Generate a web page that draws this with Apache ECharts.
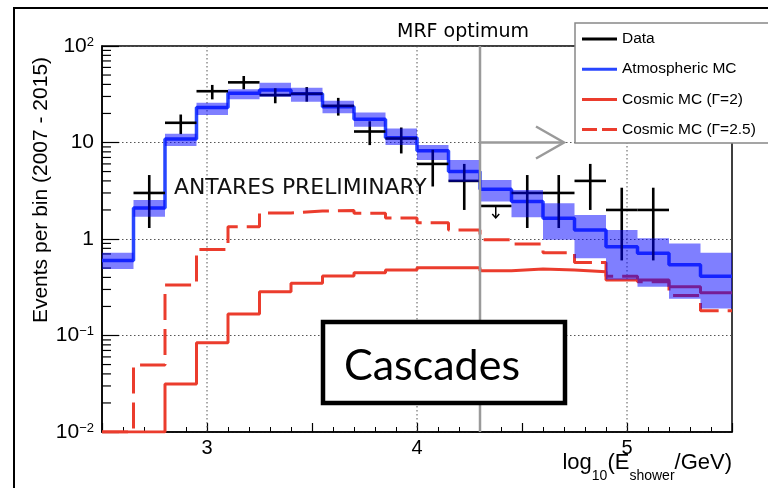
<!DOCTYPE html>
<html><head><meta charset="utf-8">
<script src="https://cdn.jsdelivr.net/npm/echarts@6/dist/echarts.min.js"></script>
<style>html,body{margin:0;padding:0;background:#fff}#c{width:768px;height:488px}</style>
</head><body><div id="c"></div>
<script>
// ---- data ----
const binEdges = [2.5,2.65,2.8,2.95,3.1,3.25,3.4,3.55,3.7,3.85,4.0,4.15,4.3,4.45,4.6,4.75,4.9,5.05,5.2,5.35,5.5];
const atmosphericMC   = [0.6,2.1,10.9,23,32.4,35,32,23.5,17.4,11.2,8.2,5.0,3.27,2.44,1.64,1.24,0.83,0.71,0.54,0.41];
const atmosphericLow  = [0.49,1.7,9.2,19.3,28,29.8,26.5,20.1,14.6,9.4,6.6,3.93,2.44,1.68,0.98,0.63,0.38,0.32,0.24,0.19];
const atmosphericHigh = [0.72,2.54,12.3,25.8,35.6,41.7,37,27.1,20.4,14.0,9.4,6.6,4.09,3.22,2.34,1.77,1.24,1.02,0.90,0.72];
const cosmicG2  = [0.01,0.01,0.0314,0.084,0.167,0.284,0.348,0.414,0.448,0.477,0.505,0.505,0.47,0.49,0.477,0.458,0.376,0.376,0.32,0.278];
const cosmicG25 = [0.01,0.0494,0.333,0.78,1.34,1.86,1.95,1.97,1.85,1.65,1.47,1.24,0.98,0.89,0.72,0.57,0.41,0.36,0.26,0.18];
const dataBin   = [1,2,3,4,5,6,7,8,9,10,11,13,14,15,16,17];
const dataY     = [3,16,34,42,31,32,24,13,11,6,4,3,3,4,2,2];
const dataLow   = [1.3,12.2,28,35.6,25.5,26.5,19,9.4,7.7,3.5,2,1.3,1.3,2,0.6,0.6];
const dataHigh  = [4.6,19.5,39.5,48.9,36.5,37.5,29,16.6,14.3,8.4,6,4.6,4.6,6,3.4,3.4];
const upperLimitBin = [12];
const upperLimitY   = [2.2];
const mrfCut = [4.3];
const mrfArrow = [4.3, 10, 4.7];   // from x, at y, to x
const xGrid = [3,4,5];
const xTickLabels = [3,4,5];
const yTickLabels = ['10{s|\u22122}','10{s|\u22121}','1','10','10{s|2}'];
const yMinorTicks = [];
[0.01,0.1,1,10].forEach(d=>[2,3,4,5,6,7,8,9].forEach(m=>yMinorTicks.push(+(d*m).toPrecision(3))));

const BLUE='#2846ff', RED='#eb3c2d', GRAY='#9a9a9a';
const step = vals => binEdges.map((e,i)=>[e, vals[Math.min(i, vals.length-1)]]);

const chart = echarts.init(document.getElementById('c'), null, {renderer:'canvas'});
const axisFont = 'Liberation Sans';

chart.setOption({
  animation:false,
  backgroundColor:'#fff',
  grid:{left:102, top:46, right:36, bottom:56, show:true, borderColor:'#000', borderWidth:1.5, backgroundColor:'transparent'},
  xAxis:{type:'value', min:2.5, max:5.5, interval:0.5,
    axisLine:{onZero:false, lineStyle:{color:'#000', width:1.5}},
    axisTick:{inside:true, length:9, lineStyle:{color:'#000', width:1.2}},
    minorTick:{show:true, splitNumber:5, length:5, lineStyle:{color:'#000', width:1}},
    splitLine:{show:false},
    axisLabel:{margin:6, color:'#000', fontSize:20, fontFamily:axisFont,
      formatter: v => xTickLabels.some(t=>Math.abs(t-v)<1e-6) ? String(Math.round(v)) : ''}
  },
  yAxis:{type:'log', logBase:10, min:0.01, max:100,
    axisLine:{onZero:false, lineStyle:{color:'#000', width:1.5}},
    axisTick:{inside:true, length:17, lineStyle:{color:'#000', width:1.2}},
    splitLine:{show:true, lineStyle:{color:'#555', width:1, type:[1.5,2.5]}},
    minorTick:{show:false},
    axisLabel:{margin:8, color:'#000', fontSize:21, fontFamily:axisFont,
      formatter: v => yTickLabels[Math.round(Math.log10(v))+2],
      rich:{s:{fontSize:13, fontFamily:axisFont, color:'#000', lineHeight:13, verticalAlign:'top', padding:[0,0,10,0]}}
    }
  },
  legend:{orient:'vertical', left:582, top:31, itemWidth:35, itemHeight:3, itemGap:14.2, padding:0, z:101,
    selectedMode:false,
    textStyle:{fontSize:15.5, fontFamily:axisFont, color:'#000'},
    data:[
      {name:'Data', icon:'path://M0,0H35V3H0Z', itemStyle:{color:'#000'}},
      {name:'Atmospheric MC', icon:'path://M0,0H35V3H0Z', itemStyle:{color:BLUE}},
      {name:'Cosmic MC (\u0393=2)', icon:'path://M0,0H35V3H0Z', itemStyle:{color:RED}},
      {name:'Cosmic MC (\u0393=2.5)', icon:'path://M0,0H15V3H0Z M20,0H35V3H20Z', itemStyle:{color:RED}}
    ]
  },
  series:[
    // x grid lines
    {type:'custom', name:'xgrid', z:1, silent:true,
      data: xGrid.map(v=>[v]),
      encode:{x:0},
      renderItem:(p,api)=>{const a=api.coord([api.value(0),100]), b=api.coord([api.value(0),0.01]);
        return {type:'line', shape:{x1:a[0],y1:a[1],x2:b[0],y2:b[1]}, style:{stroke:'#555', lineWidth:1, lineDash:[1.5,2.5]}};}
    },
    // y minor ticks
    {type:'custom', name:'yminor', z:1, silent:true,
      data: yMinorTicks.map(v=>[2.5, v]),
      encode:{x:0, y:1},
      renderItem:(p,api)=>{const a=api.coord([api.value(0),api.value(1)]);
        return {type:'line', shape:{x1:a[0],y1:a[1],x2:a[0]+9,y2:a[1]}, style:{stroke:'#000', lineWidth:1.2}};}
    },
    {type:'line', name:'Cosmic MC (\u0393=2)', step:'end', symbol:'none', z:2, color:RED,
      lineStyle:{color:RED, width:3}, data: step(cosmicG2)},
    {type:'line', name:'Cosmic MC (\u0393=2.5)', step:'end', symbol:'none', z:2, color:RED,
      lineStyle:{color:RED, width:3, type:[26,9]}, data: step(cosmicG25)},
    {type:'line', name:'Atmospheric MC', step:'end', symbol:'none', z:3, color:BLUE,
      lineStyle:{color:BLUE, width:3.5}, data: step(atmosphericMC)},
    // data crosses
    {type:'custom', name:'Data', z:4, color:'#000',
      data: dataBin.map((b,i)=>[binEdges[b], binEdges[b+1], dataY[i], dataLow[i], dataHigh[i]]),
      encode:{x:[0,1], y:[2,3,4]},
      renderItem:(p,api)=>{
        const x0=api.value(0), x1=api.value(1), xc=(x0+x1)/2;
        const a=api.coord([x0,api.value(2)]), b=api.coord([x1,api.value(2)]);
        const lo=api.coord([xc,api.value(3)]), hi=api.coord([xc,api.value(4)]);
        const st={stroke:'#000', lineWidth:2.6};
        return {type:'group', children:[
          {type:'line', shape:{x1:a[0],y1:a[1],x2:b[0],y2:b[1]}, style:st},
          {type:'line', shape:{x1:lo[0],y1:lo[1],x2:hi[0],y2:hi[1]}, style:st}
        ]};
      }
    },
    // upper limit
    {type:'custom', name:'upper limit', z:4, silent:true,
      data: upperLimitBin.map((b,i)=>[binEdges[b], binEdges[b+1], upperLimitY[i]]),
      encode:{x:[0,1], y:2},
      renderItem:(p,api)=>{
        const x0=api.value(0), x1=api.value(1), xc=(x0+x1)/2;
        const a=api.coord([x0,api.value(2)]), b=api.coord([x1,api.value(2)]), c=api.coord([xc,api.value(2)]);
        const st={stroke:'#000', lineWidth:2.6};
        return {type:'group', children:[
          {type:'line', shape:{x1:a[0],y1:a[1],x2:b[0],y2:b[1]}, style:st},
          {type:'line', shape:{x1:c[0],y1:c[1],x2:c[0],y2:c[1]+12}, style:{stroke:'#000', lineWidth:1.5}},
          {type:'polyline', shape:{points:[[c[0]-3.5,c[1]+8],[c[0],c[1]+12],[c[0]+3.5,c[1]+8]]}, style:{stroke:'#000', lineWidth:1.5, fill:null}}
        ]};
      }
    },
    // atmospheric MC uncertainty band (drawn on top, semi-transparent)
    {type:'custom', name:'band', z:5, silent:true,
      data:[[binEdges[0], atmosphericLow[0]]],
      encode:{x:0, y:1},
      renderItem:(p,api)=>{
        const pts=[];
        for(let i=0;i<atmosphericHigh.length;i++){ pts.push(api.coord([binEdges[i],atmosphericHigh[i]])); pts.push(api.coord([binEdges[i+1],atmosphericHigh[i]])); }
        for(let i=atmosphericLow.length-1;i>=0;i--){ pts.push(api.coord([binEdges[i+1],atmosphericLow[i]])); pts.push(api.coord([binEdges[i],atmosphericLow[i]])); }
        return {type:'polygon', shape:{points:pts}, style:{fill:'rgba(0,0,255,0.5)'}};
      }
    },
    // MRF cut line and arrow
    {type:'custom', name:'mrf', z:6, silent:true,
      data:[[mrfCut[0], mrfArrow[1], mrfArrow[2]]],
      encode:{x:[0,2], y:1},
      renderItem:(p,api)=>{
        const top=api.coord([api.value(0),100]), bot=api.coord([api.value(0),0.01]);
        const s=api.coord([api.value(0),api.value(1)]), e=api.coord([api.value(2),api.value(1)]);
        const st={stroke:GRAY, lineWidth:2.5, fill:null};
        return {type:'group', children:[
          {type:'line', shape:{x1:top[0],y1:top[1],x2:bot[0],y2:bot[1]}, style:st},
          {type:'line', shape:{x1:s[0],y1:s[1],x2:e[0],y2:e[1]}, style:st},
          {type:'polyline', shape:{points:[[e[0]-28,e[1]-16],[e[0],e[1]],[e[0]-28,e[1]+16]]}, style:st}
        ]};
      }
    }
  ],
  graphic:[
    {type:'rect', z:0, shape:{x:14, y:8, width:800, height:520}, style:{stroke:'#000', lineWidth:2, fill:null}},
    {type:'rect', z:100, shape:{x:575, y:23, width:220, height:120}, style:{stroke:'#888', lineWidth:1.5, fill:'#fff'}},
    {type:'text', z:100, x:463, y:32, style:{text:'MRF optimum', fontSize:19, fontFamily:'DejaVu Sans', fill:'#000', textAlign:'center', textVerticalAlign:'middle'}},
    {type:'text', z:100, x:174, y:188, style:{text:'ANTARES PRELIMINARY', fontSize:21.9, fontFamily:'DejaVu Sans', fill:'#111', textAlign:'left', textVerticalAlign:'middle'}},
    {type:'rect', z:100, shape:{x:323, y:322, width:242, height:81}, style:{stroke:'#000', lineWidth:4.5, fill:'#fff'}},
    {type:'text', z:101, x:344, y:366, style:{text:'Cascades', fontSize:43, fontFamily:'Lato', fill:'#000', textAlign:'left', textVerticalAlign:'middle'}},
    {type:'text', z:100, x:41, y:190, rotation:Math.PI/2, style:{text:'Events per bin (2007 - 2015)', fontSize:21, fontFamily:axisFont, fill:'#000', textAlign:'center', textVerticalAlign:'middle'}},
    {type:'text', z:100, x:732, y:452, style:{text:'{b|log}{sub|10}{b|(E}{sub|shower}{b|/GeV)}', fontSize:22, fontFamily:axisFont, fill:'#000', textAlign:'right', textVerticalAlign:'top',
      rich:{
        b:{fontSize:22, fontFamily:axisFont, fill:'#000', lineHeight:31, verticalAlign:'top'},
        sub:{fontSize:14, fontFamily:axisFont, fill:'#000', lineHeight:14, verticalAlign:'bottom'}
      }}}
  ]
});
</script></body></html>
